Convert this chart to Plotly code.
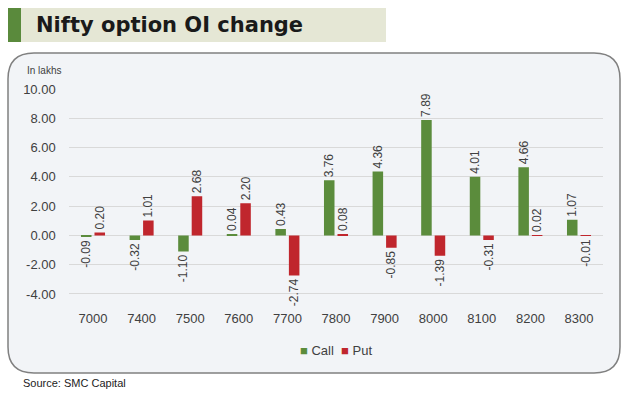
import plotly.graph_objects as go

strikes = ["7000", "7400", "7500", "7600", "7700", "7800", "7900", "8000", "8100", "8200", "8300"]
call_oi = [-0.09, -0.32, -1.10, 0.04, 0.43, 3.76, 4.36, 7.89, 4.01, 4.66, 1.07]
put_oi = [0.20, 1.01, 2.68, 2.20, -2.74, 0.08, -0.85, -1.39, -0.31, 0.02, -0.01]
y_ticks = [10, 8, 6, 4, 2, 0, -2, -4]
y_tick_labels = ["10.00", "8.00", "6.00", "4.00", "2.00", "0.00", "-2.00", "-4.00"]
call_color = "#5b8c3c"
put_color = "#c0262d"

W, H = 630, 398
def px(x):
    return x / W
def py(y):
    return 1 - y / H

label_font = dict(family="Liberation Sans", size=12, color="#404040")

fig = go.Figure()
fig.add_trace(go.Bar(
    x=strikes, y=call_oi, name="Call", marker=dict(color=call_color, line=dict(width=0)),
    texttemplate="%{y:.2f}", textposition="outside", textangle=-90,
    textfont=label_font, constraintext="none", cliponaxis=False, showlegend=False,
))
fig.add_trace(go.Bar(
    x=strikes, y=put_oi, name="Put", marker=dict(color=put_color, line=dict(width=0)),
    texttemplate="%{y:.2f}", textposition="outside", textangle=-90,
    textfont=label_font, constraintext="none", cliponaxis=False, showlegend=False,
))

# rounded chart box
x0, y0, x1, y1, r = 8, 53, 620, 373, 26
path = (f"M {px(x0+r)},{py(y0)} L {px(x1-r)},{py(y0)} "
        f"Q {px(x1)},{py(y0)} {px(x1)},{py(y0+r)} "
        f"L {px(x1)},{py(y1-r)} Q {px(x1)},{py(y1)} {px(x1-r)},{py(y1)} "
        f"L {px(x0+r)},{py(y1)} Q {px(x0)},{py(y1)} {px(x0)},{py(y1-r)} "
        f"L {px(x0)},{py(y0+r)} Q {px(x0)},{py(y0)} {px(x0+r)},{py(y0)} Z")

shapes = [
    dict(type="rect", xref="paper", yref="paper", x0=px(8), x1=px(386), y0=py(42), y1=py(8),
         fillcolor="#e5e7d5", line=dict(width=0), layer="below"),
    dict(type="rect", xref="paper", yref="paper", x0=px(8), x1=px(21), y0=py(42), y1=py(8),
         fillcolor="#5a8a3c", line=dict(width=0), layer="below"),
    dict(type="path", xref="paper", yref="paper", path=path,
         fillcolor="#f2f4f7", line=dict(color="#808080", width=1.5), layer="below"),
]

legend_text = (f"<span style='color:{call_color}'>■</span> Call  "
               f"<span style='color:{put_color}'>■</span> Put")

fig.update_layout(
    width=W, height=H, autosize=False,
    margin=dict(l=0, r=0, t=0, b=0, pad=0, autoexpand=False),
    paper_bgcolor="white", plot_bgcolor="rgba(0,0,0,0)",
    barmode="group", bargap=0.444, bargroupgap=0.22,
    shapes=shapes,
    showlegend=False,
    xaxis=dict(domain=[px(68.7), px(603.3)], showgrid=False, zeroline=False, showline=False,
               ticks="", tickfont=dict(family="Liberation Sans", size=13, color="#404040"),
               anchor="y", automargin=False),
    yaxis=dict(domain=[py(308.6), py(89)], range=[-5, 10], tickvals=y_ticks, ticktext=y_tick_labels,
               showgrid=True, gridcolor="#d9d9d9", gridwidth=1, zeroline=False, showline=False,
               ticks="", ticklabelstandoff=12, automargin=False,
               tickfont=dict(family="Liberation Sans", size=13, color="#404040")),
    annotations=[
        dict(text="<b>Nifty option OI change</b>", xref="paper", yref="paper", x=px(34), y=py(25),
             xanchor="left", yanchor="middle", showarrow=False,
             font=dict(family="DejaVu Sans", size=21, color="#1a1a1a")),
        dict(text="In lakhs", xref="paper", yref="paper", x=px(25), y=py(71),
             xanchor="left", yanchor="middle", showarrow=False,
             font=dict(family="Liberation Sans", size=10, color="#404040")),
        dict(text=legend_text, xref="paper", yref="paper", x=px(336), y=py(350),
             xanchor="center", yanchor="middle", showarrow=False,
             font=dict(family="Liberation Sans", size=13, color="#404040")),
        dict(text="Source: SMC Capital", xref="paper", yref="paper", x=px(21), y=py(383),
             xanchor="left", yanchor="middle", showarrow=False,
             font=dict(family="Liberation Sans", size=11, color="#222222")),
    ],
)

fig.write_html("out.html", config={"displayModeBar": False},
               post_script="document.body.style.margin='0';")
